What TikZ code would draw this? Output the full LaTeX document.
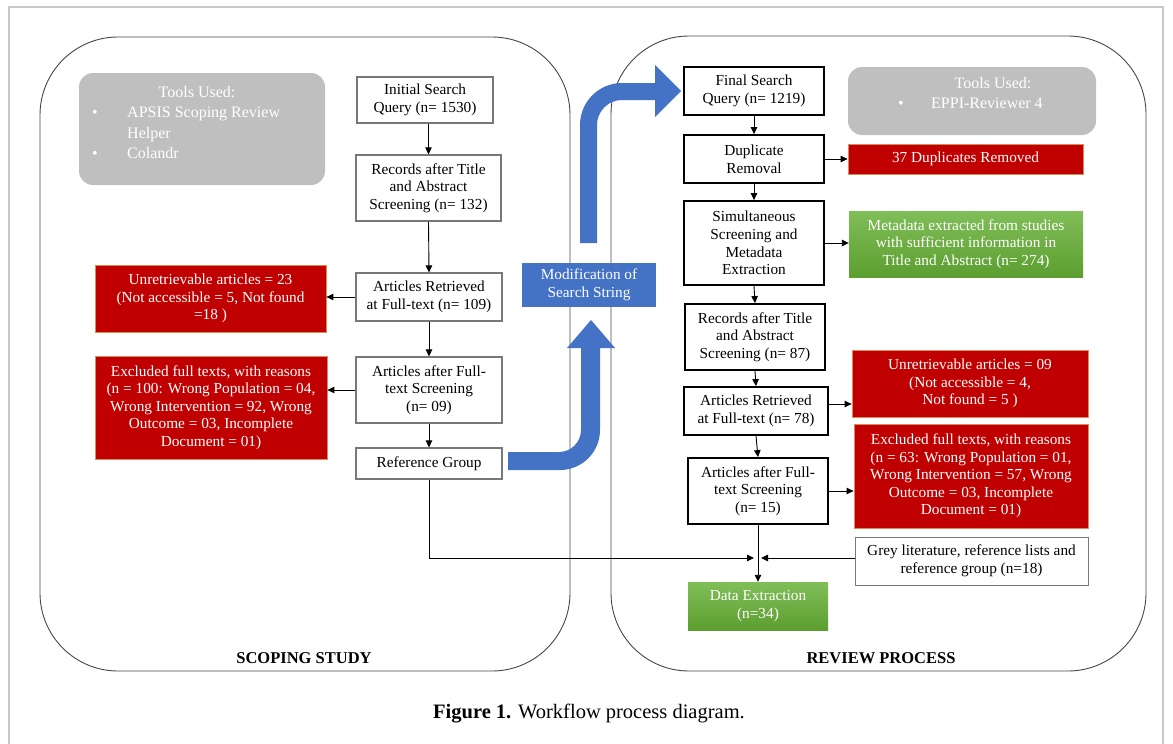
\documentclass[tikz,border=0pt]{standalone}
\usepackage{fontspec}
\setmainfont{Liberation Serif}
\usetikzlibrary{arrows.meta,calc}
\definecolor{redf}{RGB}{192,0,0}
\definecolor{redd}{RGB}{215,140,90}
\definecolor{bluef}{RGB}{68,114,196}
\definecolor{greyf}{RGB}{191,191,191}
\definecolor{greent}{RGB}{128,190,88}
\definecolor{greenb}{RGB}{92,158,48}
\definecolor{lgrey}{RGB}{120,120,120}
\definecolor{framec}{RGB}{200,200,200}
\definecolor{panelc}{RGB}{70,70,70}
\begin{document}
\begin{tikzpicture}[x=1pt,y=-1pt,
  txt/.style={font=\fontsize{15.3}{17.6}\selectfont, align=center, inner sep=0pt},
  sz/.style 2 args={minimum width=#1, minimum height=#2},
  lbox/.style={txt, draw=lgrey, line width=1.2pt, fill=white},
  rbox/.style={txt, draw=black, line width=1.8pt, fill=white},
  redbox/.style={txt, fill=redf, draw=redd, line width=0.8pt, text=white},
  greenbox/.style={txt, top color=greent, bottom color=greenb, draw=none, text=white},
  bluebox/.style={txt, fill=bluef, draw=none, text=white},
  toolbox/.style={fill=greyf, draw=none, rounded corners=14pt},
  tooltxt/.style={font=\fontsize{16}{20}\selectfont, text=white, inner sep=0pt},
  panel/.style={draw=panelc, line width=0.9pt, rounded corners=78pt},
  plabel/.style={font=\fontsize{16.5}{20}\selectfont\bfseries, inner sep=0pt},
  conn/.style={line width=0.9pt, -{Triangle[length=7pt,width=6.5pt]}},
  bigarrow/.style={fill=bluef, draw=none}
]
\useasboundingbox (0,0) rectangle (1173,744);
% outer frame
\draw[framec, line width=1.5pt] (9,750) -- (9,7) -- (1163,7) -- (1163,750);
% panels
\draw[panel] (40,37) rectangle (570,671);
\draw[panel] (611,36) rectangle (1146,671);
\node[plabel] (lblL) at (304,658) {SCOPING STUDY};
\node[plabel] (lblR) at (881,658) {REVIEW PROCESS};
% caption
\node[font=\fontsize{20.5}{24}\selectfont, inner sep=0pt, anchor=base] (cap) at (589,718) {\textbf{Figure 1.} Workflow process diagram.};

% tools boxes
\fill[toolbox] (79,73) rectangle (325,185);
\node[tooltxt, anchor=base] (tl0) at (197,97) {Tools Used:};
\node[tooltxt, anchor=base] (tl1b) at (95,117) {\textbullet};
\node[tooltxt, anchor=base west] (tl1) at (127,117) {APSIS Scoping Review};
\node[tooltxt, anchor=base west] (tl2) at (127,138) {Helper};
\node[tooltxt, anchor=base] (tl3b) at (95,158) {\textbullet};
\node[tooltxt, anchor=base west] (tl3) at (127,158) {Colandr};

\fill[toolbox] (848,67) rectangle (1096,135);
\node[tooltxt, anchor=base] (tr0) at (993,88) {Tools Used:};
\node[tooltxt, anchor=base] (tr1b) at (901,108) {\textbullet};
\node[tooltxt, anchor=base west] (tr1) at (931,108) {EPPI-Reviewer 4};

% left flow
\node[lbox, sz={136pt}{46pt}] (A1) at (425,100) {Initial Search\\Query (n= 1530)};
\node[lbox, sz={145pt}{66pt}] (A2) at (428.5,188) {Records after Title\\and Abstract\\Screening (n= 132)};
\node[lbox, sz={146pt}{48pt}] (A3) at (429,297) {Articles Retrieved\\at Full-text (n= 109)};
\node[lbox, sz={146pt}{66pt}] (A4) at (429,390) {Articles after Full-\\text Screening\\(n= 09)};
\node[lbox, sz={146pt}{31pt}] (A5) at (429,463.5) {Reference Group};
\node[redbox, sz={231pt}{67pt}] (R1) at (210.5,298.5) {Unretrievable articles = 23\\(Not accessible = 5, Not found\\=18 )};
\node[redbox, sz={232pt}{103pt}] (R2) at (211,407.5) {Excluded full texts, with reasons\\(n = 100: Wrong Population = 04,\\Wrong Intervention = 92, Wrong\\Outcome = 03, Incomplete\\Document = 01)};

% right flow
\node[rbox, sz={140pt}{48pt}] (B1) at (754,91) {Final Search\\Query (n= 1219)};
\node[rbox, sz={140pt}{48pt}] (B2) at (754,159) {Duplicate\\Removal};
\node[rbox, sz={140pt}{84pt}] (B3) at (754,243) {Simultaneous\\Screening and\\Metadata\\Extraction};
\node[rbox, sz={140pt}{66pt}] (B4) at (755,337) {Records after Title\\and Abstract\\Screening (n= 87)};
\node[rbox, sz={144pt}{48pt}] (B5) at (756,411) {Articles Retrieved\\at Full-text (n= 78)};
\node[rbox, sz={140pt}{66pt}] (B6) at (758,491) {Articles after Full-\\text Screening\\(n= 15)};
\node[redbox, sz={235pt}{30pt}] (D1) at (965.5,159) {37 Duplicates Removed};
\node[greenbox, sz={234pt}{66pt}] (G1) at (966,244) {Metadata extracted from studies\\with sufficient information in\\Title and Abstract (n= 274)};
\node[redbox, sz={236pt}{67pt}] (R3) at (970,383.5) {Unretrievable articles = 09\\(Not accessible = 4,\\Not found = 5 )};
\node[redbox, sz={234pt}{104pt}] (R4) at (971,476) {Excluded full texts, with reasons\\(n = 63: Wrong Population = 01,\\Wrong Intervention = 57, Wrong\\Outcome = 03, Incomplete\\Document = 01)};
\node[lbox, line width=1pt, sz={233pt}{48pt}] (GL) at (971.5,561) {Grey literature, reference lists and\\reference group (n=18)};
\node[greenbox, sz={140pt}{48pt}] (DE) at (758,606) {Data Extraction\\(n=34)};

\coordinate (mL) at (754,558);
\coordinate (mR) at (761,558);

% connectors left
\draw[conn] (A2.north |- A1.south) -- (A2.north);
\draw[conn] (A2.south) -- (A3.north);
\draw[conn] (A3.south) -- (A4.north);
\draw[conn] (A4.south) -- (A5.north);
\draw[conn] (A3.west) -- (R1.east |- A3.west);
\draw[conn] (A4.west) -- (R2.east |- A4.west);
\draw[conn] (A5.south) |- (mL);

% connectors right
\draw[conn] (B2.north |- B1.south) -- (B2.north);
\draw[conn] (B2.south) -- (B3.north);
\draw[conn] (B3.south) -- (B4.north);
\draw[conn] (B4.south) -- (B5.north);
\draw[conn] (B5.south) -- (B6.north);
\draw[conn] (B6.south -| DE.north) -- (DE.north);
\draw[conn] (B2.east) -- (D1.west);
\draw[conn] (B3.east) -- (G1.west |- B3.east);
\draw[conn] (B5.east |- 0,404) -- (R3.west |- 0,404);
\draw[conn] (B6.east) -- (R4.west |- B6.east);
\draw[conn] (GL.west |- mR) -- (mR);

% big blue arrows
\fill[bigarrow] (508,452) -- (559,452) .. controls (571.1,452) and (581,442.1) .. (581,430)
  -- (581,348) -- (567,348) -- (591,320) -- (615,348) -- (600,348) -- (600,430)
  .. controls (600,452.1) and (582.1,470) .. (560,470) -- (508,470) -- cycle;
\fill[bigarrow] (580,243) -- (580,125) .. controls (580,101.8) and (598.8,83) .. (622,83)
  -- (655,83) -- (655,65) -- (681,91) -- (655,117) -- (655,100) -- (622,100)
  .. controls (608.2,100) and (597,111.2) .. (597,125) -- (597,243) -- cycle;
\node[bluebox, sz={134pt}{44pt}] (MS) at (589,285) {Modification of\\Search String};
\end{tikzpicture}
\end{document}
